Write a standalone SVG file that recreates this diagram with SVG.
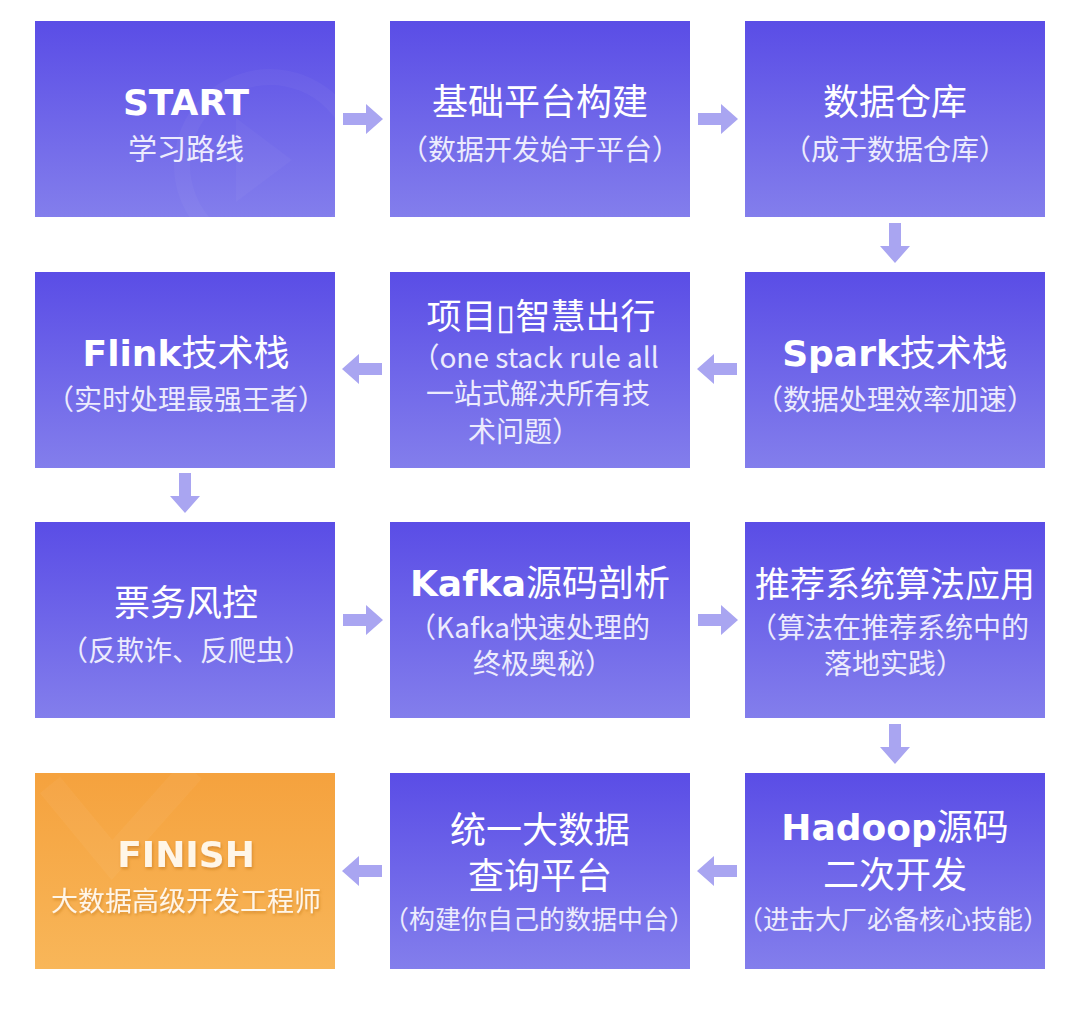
<svg xmlns="http://www.w3.org/2000/svg" xmlns:xlink="http://www.w3.org/1999/xlink" width="1080" height="1031" viewBox="0 0 1080 1031">
<style>
.box{fill:url(#gv)}
.fin{fill:url(#go)}
text{font-family:"Noto Sans CJK SC","Noto Sans",sans-serif;fill:#ffffff;text-anchor:middle}
.t{font-size:36px}
.s{font-size:28px;fill:#ecebfd}
.b{font-family:"DejaVu Sans","Noto Sans CJK SC",sans-serif;font-weight:bold}
.arrow{fill:#a9a5f1}
.wm{fill:none;stroke:#ffffff;stroke-opacity:0.035}
</style>
<defs>
<linearGradient id="gv" x1="0" y1="0" x2="0" y2="1">
<stop offset="0" stop-color="#5a4de6"/>
<stop offset="1" stop-color="#837eec"/>
</linearGradient>
<linearGradient id="go" x1="0" y1="0" x2="0" y2="1">
<stop offset="0" stop-color="#f5a23e"/>
<stop offset="1" stop-color="#f8b659"/>
</linearGradient>
<path id="arr" d="M0,-6 H23 V-15 L40,0 L23,15 V6 H0 Z"/>
<clipPath id="c1"><rect x="35" y="21" width="300" height="196"/></clipPath>
<clipPath id="c2"><rect x="35" y="773" width="300" height="196"/></clipPath>
<filter id="sh" x="-10%" y="-10%" width="120%" height="130%"><feDropShadow dx="1" dy="2" stdDeviation="1.5" flood-color="#b86a10" flood-opacity="0.5"/></filter>
</defs>
<rect width="1080" height="1031" fill="#ffffff"/>

<g id="connectors" class="arrow">
<use xlink:href="#arr" x="343" y="119"/>
<use xlink:href="#arr" x="698" y="119"/>
<use xlink:href="#arr" transform="translate(895,223) rotate(90)"/>
<use xlink:href="#arr" transform="translate(737,369) scale(-1,1)"/>
<use xlink:href="#arr" transform="translate(382,369) scale(-1,1)"/>
<use xlink:href="#arr" transform="translate(185,473) rotate(90)"/>
<use xlink:href="#arr" x="343" y="620"/>
<use xlink:href="#arr" x="698" y="620"/>
<use xlink:href="#arr" transform="translate(895,724) rotate(90)"/>
<use xlink:href="#arr" transform="translate(737,871) scale(-1,1)"/>
<use xlink:href="#arr" transform="translate(382,871) scale(-1,1)"/>
</g>

<g id="n-start">
<rect class="box" x="35" y="21" width="300" height="196"/>
<g clip-path="url(#c1)">
<circle class="wm" cx="270" cy="165" r="88" stroke-width="16"/>
<path d="M236,118 L292,160 L236,202 Z" fill="#ffffff" fill-opacity="0.03"/>
</g>
<text class="b" x="186" y="115" style="font-size:36px">START</text>
<text class="s" x="186" y="160" style="font-size:29px">学习路线</text>
</g>

<g id="n-platform">
<rect class="box" x="390" y="21" width="300" height="196"/>
<text class="t" x="540" y="115">基础平台构建</text>
<text class="s" x="540" y="160">（数据开发始于平台）</text>
</g>

<g id="n-warehouse">
<rect class="box" x="745" y="21" width="300" height="196"/>
<text class="t" x="895" y="115">数据仓库</text>
<text class="s" x="895" y="160">（成于数据仓库）</text>
</g>

<g id="n-spark">
<rect class="box" x="745" y="272" width="300" height="196"/>
<text class="t" x="895" y="366"><tspan class="b" style="font-size:36px">Spark</tspan>技术栈</text>
<text class="s" x="895" y="410">（数据处理效率加速）</text>
</g>

<g id="n-project">
<rect class="box" x="390" y="272" width="300" height="196"/>
<text class="t" x="541" y="329" style="font-size:35px">项目▯智慧出行</text>
<text class="s" x="535" y="368">（one stack rule all</text>
<text class="s" x="538" y="404">一站式解决所有技</text>
<text class="s" x="468" y="442" style="text-anchor:start">术问题）</text>
</g>

<g id="n-flink">
<rect class="box" x="35" y="272" width="300" height="196"/>
<text class="t" x="186" y="366"><tspan class="b" style="font-size:36px">Flink</tspan>技术栈</text>
<text class="s" x="186" y="410">（实时处理最强王者）</text>
</g>

<g id="n-ticket">
<rect class="box" x="35" y="522" width="300" height="196"/>
<text class="t" x="186" y="616">票务风控</text>
<text class="s" x="186" y="661">（反欺诈、反爬虫）</text>
</g>

<g id="n-kafka">
<rect class="box" x="390" y="522" width="300" height="196"/>
<text class="t" x="540" y="596"><tspan class="b" style="font-size:36px">Kafka</tspan>源码剖析</text>
<text class="s" x="529" y="638">（Kafka快速处理的</text>
<text class="s" x="543" y="674">终极奥秘）</text>
</g>

<g id="n-recommend">
<rect class="box" x="745" y="522" width="300" height="196"/>
<text class="t" x="895" y="597" style="font-size:35px">推荐系统算法应用</text>
<text class="s" x="889" y="638">（算法在推荐系统中的</text>
<text class="s" x="894" y="674">落地实践）</text>
</g>

<g id="n-hadoop">
<rect class="box" x="745" y="773" width="300" height="196"/>
<text class="t" x="895" y="840"><tspan class="b" style="font-size:36px">Hadoop</tspan>源码</text>
<text class="t" x="895" y="888">二次开发</text>
<text class="s" x="893" y="929" style="font-size:26px">（进击大厂必备核心技能）</text>
</g>

<g id="n-query">
<rect class="box" x="390" y="773" width="300" height="196"/>
<text class="t" x="540" y="843">统一大数据</text>
<text class="t" x="540" y="889">查询平台</text>
<text class="s" x="539" y="929" style="font-size:26px">（构建你自己的数据中台）</text>
</g>

<g id="n-finish">
<rect class="fin" x="35" y="773" width="300" height="196"/>
<g clip-path="url(#c2)">
<polyline points="50,785 112,860 192,770" fill="none" stroke="#ffffff" stroke-opacity="0.045" stroke-width="26"/>
</g>
<g filter="url(#sh)">
<text class="b" x="186" y="867" style="font-size:36px;fill:#fff6e8">FINISH</text>
<text x="186" y="911" style="font-size:27px;fill:#fff6e8">大数据高级开发工程师</text>
</g>
</g>
</svg>
